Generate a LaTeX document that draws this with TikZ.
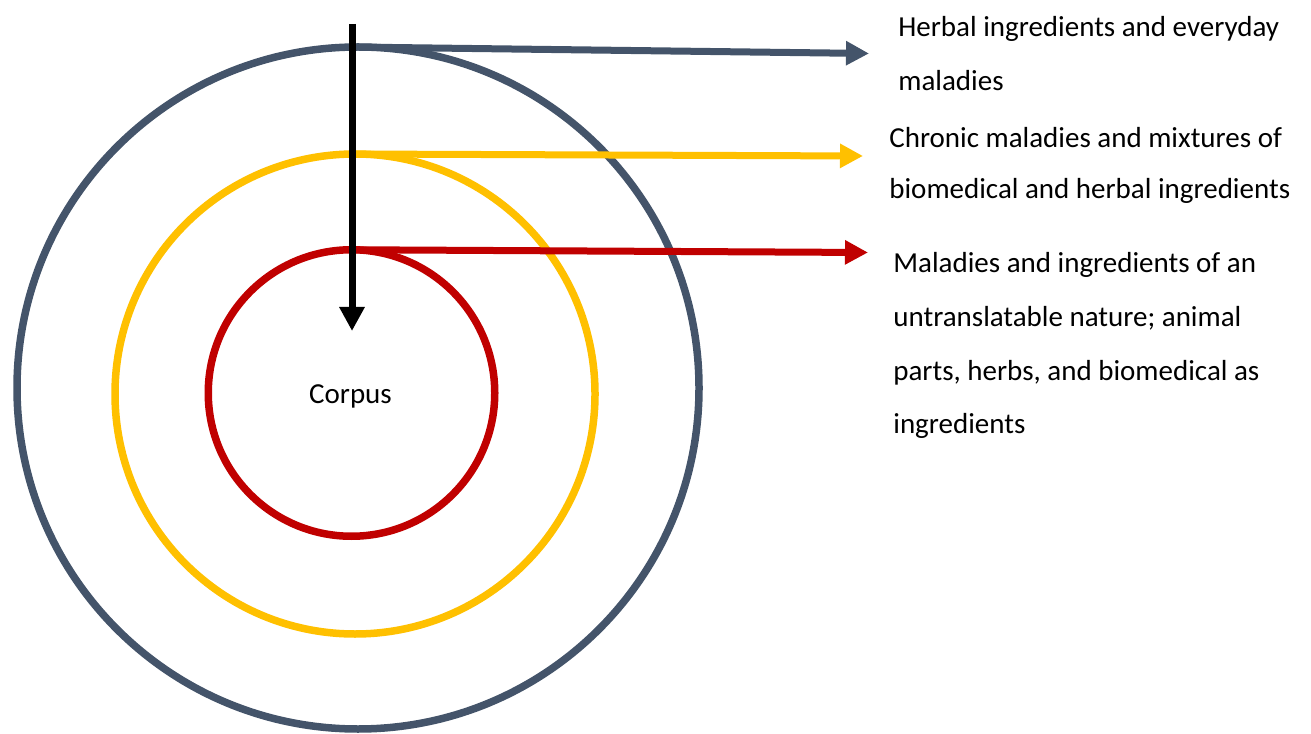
\documentclass[tikz,border=0pt]{standalone}
\usepackage{fontspec}
\setmainfont{Carlito}
\usetikzlibrary{%
  arrows.meta,%
  calc,%
  positioning%
}
\definecolor{slate}{HTML}{44546A}
\definecolor{gold}{HTML}{FFC000}
\definecolor{crimson}{HTML}{C00000}
\tikzset{>={Triangle[length=0.46cm,width=0.46cm]}}
\tikzset{
  ring/.style={draw=#1,circle,line width=0.15cm,inner sep=0pt,outer sep=0pt},
  pointer/.style={->,draw=#1,line width=0.14cm},
  lbl/.style={anchor=north west,inner sep=0pt,align=left,
    font=\fontsize{16.5}{30.6}\selectfont}
}

\begin{document}
\begin{tikzpicture}
        \useasboundingbox (0,0) rectangle (26.22cm,14.66cm);
        % the three rings
        \node[ring=slate,minimum size=13.64cm] (outer) at (7.16cm,6.9cm) {};
        \node[ring=gold,minimum size=9.6cm] (middle) at (7.10cm,6.78cm) {};
        \node[ring=crimson,minimum size=5.73cm] (inner) at (7.03cm,6.80cm) {};
        \node[font=\fontsize{16.5}{20}\selectfont] (corpus)
        at ($(inner)+(-0.02cm,-0.06cm)$) {Corpus};
        % axis and arrow ends
        \coordinate (top) at (7.04cm,14.18cm);
        \coordinate (bottom) at (7.04cm,8.04cm);
        \coordinate (tipA) at (17.38cm,13.59cm);
        \coordinate (tipB) at (17.26cm,11.54cm);
        \coordinate (tipC) at (17.36cm,9.61cm);
        % labels
        \node[lbl] (herbal) at (17.96cm,14.34cm)
        {Herbal ingredients and everyday\\maladies};
        \node[lbl,font=\fontsize{16.5}{29}\selectfont] (chronic)
        at (17.78cm,12.12cm)
        {Chronic maladies and mixtures of\\biomedical and herbal ingredients};
        \node[lbl] (untrans) at (17.86cm,9.62cm)
        {Maladies and ingredients of an\\untranslatable nature; animal\\
        parts, herbs, and biomedical as\\ingredients};
        % pointers
        \draw[pointer=slate] (outer.north -| top) -- (tipA);
        \draw[pointer=gold] (middle.north -| top) -- (tipB);
        \draw[pointer=crimson] (inner.north -| top) -- (tipC);
        \draw[pointer=black,>={Triangle[length=0.48cm,width=0.48cm]}]
        (top) -- (bottom);
      \end{tikzpicture}
\end{document}
